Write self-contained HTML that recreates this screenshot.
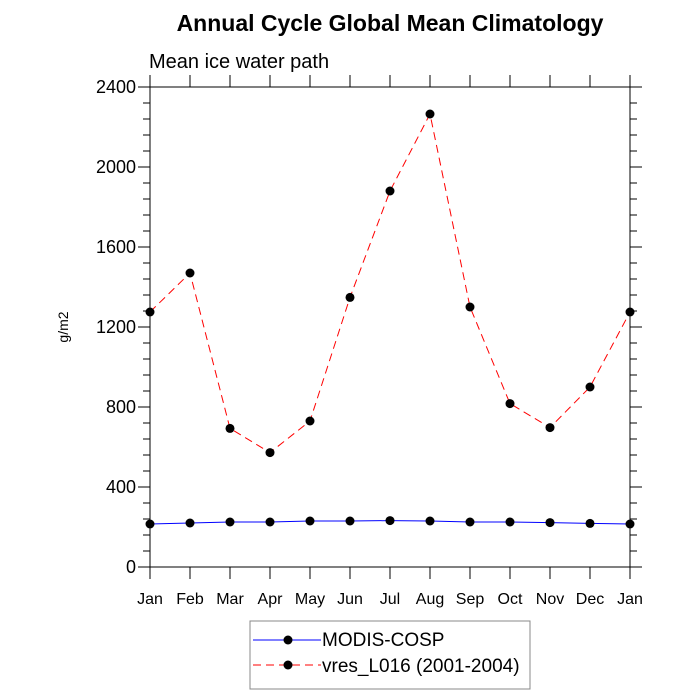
<!DOCTYPE html>
<html><head><meta charset="utf-8"><style>
body{margin:0;background:#fff;}
svg{display:block;font-family:"Liberation Sans",sans-serif;}
</style></head><body>
<svg id="chart" width="700" height="700">
<text x="390" y="31" text-anchor="middle" font-size="23" font-weight="bold">Annual Cycle Global Mean Climatology</text>
<text x="149" y="68" font-size="20">Mean ice water path</text>
<text x="0" y="0" transform="translate(68,327) rotate(-90)" text-anchor="middle" font-size="14">g/m2</text>
<g id="axes"></g>
<g id="series"></g>
<g>
<rect x="250" y="621" width="280" height="68" fill="#fff" stroke="#888"/>
<g>
<line x1="253" y1="640" x2="321" y2="640" stroke="#00f" stroke-width="1"/>
<circle cx="288" cy="640" r="4.5" fill="#000"/>
<text x="322" y="646" font-size="19">MODIS-COSP</text></g>
<g>
<line x1="253" y1="665" x2="321" y2="665" stroke="#f00" stroke-width="1" stroke-dasharray="8,5"/>
<circle cx="288" cy="665" r="4.5" fill="#000"/>
<text x="322" y="672" font-size="19">vres_L016 (2001-2004)</text></g>
</g>
</svg>
<script>
const months=["Jan","Feb","Mar","Apr","May","Jun","Jul","Aug","Sep","Oct","Nov","Dec","Jan"];
const modis=[215,220,225,225,230,230,232,230,225,225,222,218,215];
const vres=[1275,1470,693,572,730,1348,1880,2265,1300,817,697,900,1275];
const yTicks=[0,400,800,1200,1600,2000,2400];
const NS="http://www.w3.org/2000/svg";
const L=150,R=630,T=87,B=567,YMAX=2400;
const xs=i=>L+i*(R-L)/(months.length-1);
const ys=v=>B-v/YMAX*(B-T);
function mk(t,a,p){const e=document.createElementNS(NS,t);for(const k in a)e.setAttribute(k,a[k]);p.appendChild(e);return e;}
const ax=document.getElementById('axes');
const fr=mk('rect',{x:L,y:T,width:R-L,height:B-T,fill:'none',stroke:'#000','stroke-width':1},ax);


for(let v=0;v<=YMAX;v+=80){const major=v%400===0;const len=major?12:7;
mk('line',{x1:L-len,y1:ys(v),x2:L,y2:ys(v),stroke:'#000'},ax);
mk('line',{x1:R,y1:ys(v),x2:R+len,y2:ys(v),stroke:'#000'},ax);}
yTicks.forEach(v=>{const t=mk('text',{x:L-14,y:ys(v)+6,'text-anchor':'end','font-size':18},ax);t.textContent=v;

});
months.forEach((m,i)=>{mk('line',{x1:xs(i),y1:B,x2:xs(i),y2:B+12,stroke:'#000'},ax);
mk('line',{x1:xs(i),y1:T,x2:xs(i),y2:T-12,stroke:'#000'},ax);
const t=mk('text',{x:xs(i),y:B+37,'text-anchor':'middle','font-size':16},ax);t.textContent=m;

});
const sg=document.getElementById('series');
function series(vals,color,dash,name){
const g=mk('g',{},sg);


const pl=mk('polyline',{points:vals.map((v,i)=>xs(i)+','+ys(v)).join(' '),fill:'none',stroke:color,'stroke-width':1,'stroke-dasharray':dash},g);


vals.forEach((v,i)=>{const c=mk('circle',{cx:xs(i),cy:ys(v),r:4.5,fill:'#000'},g);

});}
series(vres,'#f00','8,5','vres-series');
series(modis,'#00f','none','modis-series');
</script>
</body></html>
